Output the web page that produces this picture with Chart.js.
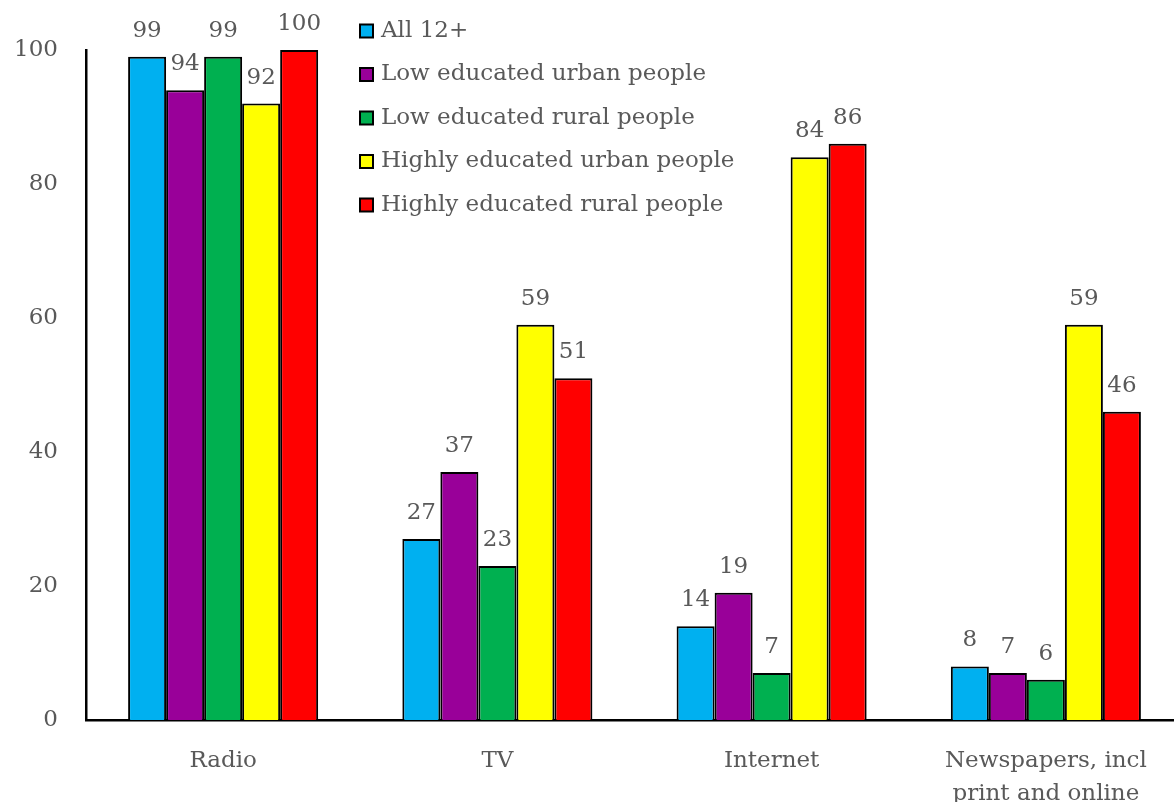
<!DOCTYPE html>
<html>
<head>
<meta charset="utf-8">
<script src="https://cdn.jsdelivr.net/npm/chart.js@4.4.0/dist/chart.umd.min.js"></script>
<style>
  html, body { margin: 0; padding: 0; background: #fff; overflow: hidden; }
  #wrap { width: 1174px; height: 802px; overflow: hidden; position: relative; }
  #box { position: absolute; left: 0; top: 0; width: 1184px; height: 830px; }
</style>
</head>
<body>
<div id="wrap"><div id="box"><canvas id="mediaChart"></canvas></div></div>
<script>
const categories = ['Radio', 'TV', 'Internet', ['Newspapers, incl', 'print and online']];
const seriesNames = [
    'All 12+',
    'Low educated urban people',
    'Low educated rural people',
    'Highly educated urban people',
    'Highly educated rural people'
];
const all12 = [99, 27, 14, 8];
const lowUrban = [94, 37, 19, 7];
const lowRural = [99, 23, 7, 6];
const highUrban = [92, 59, 84, 59];
const highRural = [100, 51, 86, 46];
const yTicks = [0, 20, 40, 60, 80, 100];

const colors = ['#00B0F0', '#990099', '#00B050', '#FFFF00', '#FF0000'];
const textGrey = '#595959';
const fontFamily = '"DejaVu Serif", "Liberation Serif", serif';
const fontSize = 23;

const seriesValues = [all12, lowUrban, lowRural, highUrban, highRural];

// value labels above every bar
const barLabels = {
    id: 'barLabels',
    afterDatasetsDraw(chart) {
        const ctx = chart.ctx;
        ctx.save();
        ctx.font = fontSize + 'px ' + fontFamily;
        ctx.fillStyle = textGrey;
        ctx.textAlign = 'center';
        ctx.textBaseline = 'middle';
        chart.data.datasets.forEach((ds, i) => {
            chart.getDatasetMeta(i).data.forEach((bar, j) => {
                ctx.fillText(String(ds.data[j]), bar.x, bar.y - 26);
            });
        });
        ctx.restore();
    }
};

// legend drawn inside the plot, top middle
const innerLegend = {
    id: 'innerLegend',
    afterDraw(chart) {
        const ctx = chart.ctx;
        const x0 = 360, y0 = 31, step = 43.5, sq = 13;
        ctx.save();
        ctx.font = fontSize + 'px ' + fontFamily;
        ctx.textBaseline = 'middle';
        chart.data.datasets.forEach((ds, i) => {
            const y = y0 + i * step;
            ctx.fillStyle = ds.backgroundColor;
            ctx.fillRect(x0, y - sq / 2, sq, sq);
            ctx.lineWidth = 2;
            ctx.strokeStyle = '#000';
            ctx.strokeRect(x0, y - sq / 2, sq, sq);
            ctx.fillStyle = textGrey;
            ctx.fillText(ds.label, x0 + 21, y);
        });
        ctx.restore();
    }
};

const ctx = document.getElementById('mediaChart').getContext('2d');
new Chart(ctx, {
    type: 'bar',
    data: {
        labels: categories,
        datasets: seriesNames.map((name, i) => ({
            label: name,
            data: seriesValues[i],
            backgroundColor: colors[i],
            borderColor: '#000',
            borderWidth: 2,
            categoryPercentage: 0.693,
            barPercentage: 1
        }))
    },
    options: {
        responsive: true,
        maintainAspectRatio: false,
        animation: false,
        layout: { padding: { top: 50, right: 1, left: 0, bottom: 0 } },
        plugins: {
            legend: { display: false },
            tooltip: { enabled: false }
        },
        scales: {
            x: {
                grid: { display: false },
                border: { display: true, color: '#000', width: 2.5 },
                ticks: {
                    color: textGrey,
                    font: { family: fontFamily, size: fontSize, lineHeight: 1.45 },
                    padding: 16,
                    maxRotation: 0
                },
                afterFit(scale) { scale.height = 110; }
            },
            y: {
                min: 0,
                max: 100,
                grid: { display: false },
                border: { display: true, color: '#000', width: 2.5 },
                ticks: {
                    stepSize: 20,
                    color: textGrey,
                    font: { family: fontFamily, size: fontSize },
                    padding: 20,
                    callback: (v) => yTicks.includes(v) ? String(v) : ''
                },
                afterFit(scale) { scale.width = 86; }
            }
        }
    },
    plugins: [barLabels, innerLegend]
});
</script>
</body>
</html>
